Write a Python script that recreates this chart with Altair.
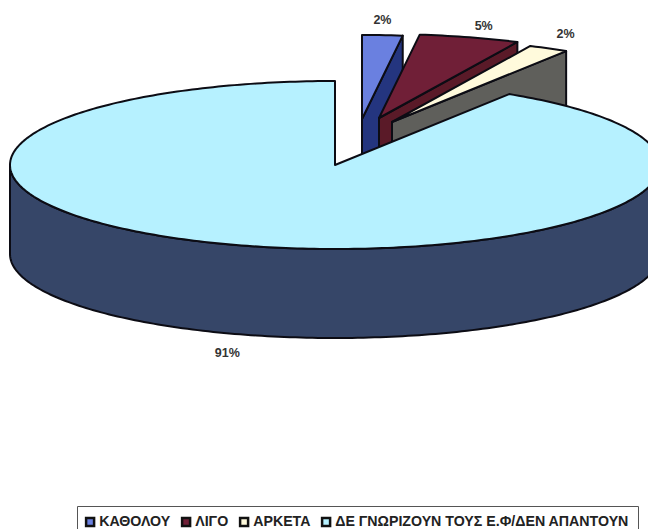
import math
import altair as alt
import pandas as pd

labels = ["ΚΑΘΟΛΟΥ", "ΛΙΓΟ", "ΑΡΚΕΤΑ", "ΔΕ ΓΝΩΡΙΖΟΥΝ ΤΟΥΣ Ε.Φ/ΔΕΝ ΑΠΑΝΤΟΥΝ"]
values = [2, 5, 2, 91]
top_colors = ["#6a80e0", "#701f37", "#fffadc", "#b6f1ff"]
side_colors = ["#24357f", "#5a1a28", "#5f5f5b", "#364668"]

RX, RY, DEPTH = 325, 84, 89
centers = [(362, 119), (379, 118), (392, 122), (335, 165)]
label_offsets = [(0, -15), (14, -11), (17, -14), (-17, 18)]

X_SCALE = alt.Scale(domain=[8, 648], nice=False, zero=False)
Y_SCALE = alt.Scale(domain=[529, 8], nice=False, zero=False)

def rim(c, deg, drop=0):
    t = math.radians(deg)
    return (c[0] + RX * math.sin(t), c[1] - RY * math.cos(t) + drop)

def arc(c, a, b, drop=0, step=1.0):
    n = max(2, int(abs(b - a) / step) + 1)
    return [rim(c, a + (b - a) * i / (n - 1), drop) for i in range(n)]

def poly(pts, fill):
    df = pd.DataFrame({"x": [p[0] for p in pts], "y": [p[1] for p in pts], "o": range(len(pts))})
    return alt.Chart(df).mark_line(
        fill=fill, stroke="#0c0c14", strokeWidth=2, interpolate="linear-closed",
        clip=True, strokeJoin="round"
    ).encode(
        x=alt.X("x:Q", axis=None, scale=X_SCALE),
        y=alt.Y("y:Q", axis=None, scale=Y_SCALE),
        order="o:Q",
    )

angles = []
acc = 0.0
for v in values:
    angles.append((acc * 3.6, (acc + v) * 3.6))
    acc += v

layers = []
# legend carrier, hidden under the large slice
legend_df = pd.DataFrame({"label": labels, "x": [335] * 4, "y": [165] * 4})
layers.append(
    alt.Chart(legend_df).mark_square(size=1, opacity=1).encode(
        x=alt.X("x:Q", axis=None, scale=X_SCALE),
        y=alt.Y("y:Q", axis=None, scale=Y_SCALE),
        color=alt.Color(
            "label:N",
            scale=alt.Scale(domain=labels, range=top_colors),
            legend=alt.Legend(
                title=None, orient="none", legendX=69, legendY=498, direction="horizontal",
                columns=4, gridAlign="none", symbolType="square", symbolSize=64,
                symbolStrokeColor="#111", symbolStrokeWidth=2.5, strokeColor="#555",
                fillColor="white", padding=9, columnPadding=6, labelFont="Liberation Sans",
                labelFontSize=14.2, labelFontWeight="bold", labelColor="#222",
                labelOffset=2, symbolOffset=-3, labelLimit=400, symbolOpacity=1,
            ),
        ),
    )
)
# exploded slices: cut face then top
for i in range(3):
    c = centers[i]
    a, b = angles[i]
    layers.append(poly([c, rim(c, b), rim(c, b, DEPTH), (c[0], c[1] + DEPTH)], side_colors[i]))
    layers.append(poly([c] + arc(c, a, b), top_colors[i]))
# large slice: outer wall then top
c = centers[3]
a, b = angles[3]
layers.append(poly(arc(c, 90, 270) + arc(c, 270, 90, DEPTH), side_colors[3]))
layers.append(poly([c] + arc(c, a, b), top_colors[3]))

# labels
rows = []
for i, v in enumerate(values):
    mid = sum(angles[i]) / 2
    p = rim(centers[i], mid, DEPTH if i == 3 else 0)
    rows.append({"x": p[0] + label_offsets[i][0], "y": p[1] + label_offsets[i][1], "t": f"{v}%"})
layers.append(
    alt.Chart(pd.DataFrame(rows)).mark_text(
        font="Liberation Sans", fontSize=12.5, fontWeight="bold", color="#333"
    ).encode(
        x=alt.X("x:Q", axis=None, scale=X_SCALE),
        y=alt.Y("y:Q", axis=None, scale=Y_SCALE),
        text="t:N",
    )
)

chart = alt.layer(*layers).properties(
    width=640, height=521, padding=0, background="white",
    autosize=alt.AutoSizeParams(type="none"),
).configure_view(stroke=None)

chart.save("out.html", embed_options={"renderer": "svg", "actions": False})
